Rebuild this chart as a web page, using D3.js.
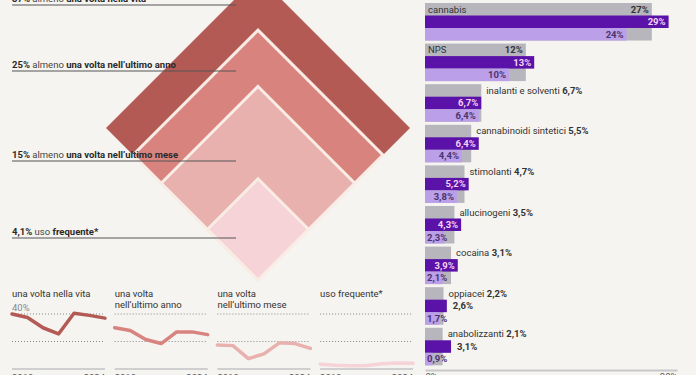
<!DOCTYPE html>
<html><head><meta charset="utf-8">
<script src="https://cdn.jsdelivr.net/npm/d3@7"></script>
<style>
html,body{margin:0;padding:0;background:#f5f4f0;}
svg{display:block;font-family:Roboto,"Liberation Sans",sans-serif;}
</style></head><body>
<svg id="chart" width="696" height="375"></svg>
<script>
// ---- data ----
const levelValues = [37, 25, 15, 4.1];
const levelPrefix = ["almeno", "almeno", "almeno", "uso"];
const levelText = ["una volta nella vita", "una volta nell’ultimo anno", "una volta nell’ultimo mese", "frequente*"];
const trendTitles = [["una volta nella vita"], ["una volta", "nell’ultimo anno"], ["una volta", "nell’ultimo mese"], ["uso frequente*"]];
const years = [2018, 2019, 2020, 2021, 2022, 2023, 2024];
const trendLife = [40, 37.5, 30, 25.5, 40.5, 39, 37];
const trendYear = [30, 28, 21.5, 18.5, 27, 27, 25];
const trendMonth = [17.5, 17, 7.5, 11, 19, 18.5, 15];
const trendFreq = [3.5, 2.8, 2.4, 2.6, 3.8, 4.3, 4.1];
const trendTicks = [20, 40];
const substances = ["cannabis", "NPS", "inalanti e solventi", "cannabinoidi sintetici", "stimolanti", "allucinogeni", "cocaina", "oppiacei", "anabolizzanti"];
const totalValues = [27, 12, 6.7, 5.5, 4.7, 3.5, 3.1, 2.2, 2.1];
const maleValues = [29, 13, 6.7, 6.4, 5.2, 4.3, 3.9, 2.6, 3.1];
const femaleValues = [24, 10, 6.4, 4.4, 3.8, 2.3, 2.1, 1.7, 0.9];
const barTicks = [0, 30];

// ---- setup ----
const svg = d3.select("#chart");
const fmt = v => String(v).replace(".", ",") + "%";
const levelColors = ["#b35a55", "#d9837f", "#e9b1ae", "#f6d3d7"];
const trends = [trendLife, trendYear, trendMonth, trendFreq];

// ---- diamond ----
const cx = 258, by = 280;
const r = d3.scaleSqrt().domain([0, 37]).range([0, 152]);
const gD = svg.append("g");
levelValues.forEach((v, i) => {
  const h = r(v);
  gD.append("polygon")
    .attr("points", [[cx, by - 2 * h], [cx + h, by - h], [cx, by], [cx - h, by - h]].map(p => p.join(",")).join(" "))
    .attr("fill", levelColors[i])
    .attr("stroke", i === 0 ? "none" : "#f8ece4")
    .attr("stroke-width", 3);
});
const labelLineY = [5, 71, 161, 238];
levelValues.forEach((v, i) => {
  const ly = labelLineY[i];
  svg.append("line").attr("x1", 12).attr("x2", 236).attr("y1", ly).attr("y2", ly)
    .attr("stroke", "#555").attr("stroke-width", 1);
  const t = svg.append("text").attr("x", 12).attr("y", ly - 3.5).attr("font-size", 9.5).attr("fill", "#2a2a2a");
  t.append("tspan").attr("font-weight", 700).text(fmt(v));
  t.append("tspan").attr("fill", "#444").text(" " + levelPrefix[i] + " ");
  t.append("tspan").attr("font-weight", 700).text(levelText[i]);
});

// ---- sparklines ----
const ys = d3.scaleLinear().domain([0, 40]).range([369, 314]);
trends.forEach((vals, i) => {
  const x0 = 12 + i * 102.7, w = 93;
  const xs = d3.scaleLinear().domain([years[0], years[years.length - 1]]).range([x0, x0 + w]);
  const g = svg.append("g");
  trendTicks.forEach(t => {
    g.append("line").attr("x1", x0).attr("x2", x0 + w).attr("y1", ys(t)).attr("y2", ys(t))
      .attr("stroke", "#888").attr("stroke-width", 1).attr("stroke-dasharray", "1,2");
  });
  g.append("line").attr("x1", x0).attr("x2", x0 + w).attr("y1", ys(0)).attr("y2", ys(0))
    .attr("stroke", "#cfcfcf").attr("stroke-width", 2);
  g.append("path").datum(vals)
    .attr("d", d3.line().x((d, j) => xs(years[j])).y(d => ys(d)))
    .attr("fill", "none").attr("stroke", levelColors[i]).attr("stroke-width", 3.5)
    .attr("stroke-linejoin", "round").attr("stroke-linecap", "round");
  trendTitles[i].forEach((line, k) => {
    g.append("text").attr("x", x0).attr("y", 297 + k * 10.5).attr("font-size", 9.5).attr("fill", "#333").text(line);
  });
  if (i === 0) {
    g.append("text").attr("x", x0).attr("y", ys(40) - 3).attr("font-size", 9.5).attr("fill", "#888").text("40%");
  }
  g.append("text").attr("x", x0).attr("y", 381).attr("font-size", 9.5).attr("fill", "#555").text(years[0]);
  g.append("text").attr("x", x0 + w).attr("y", 381).attr("text-anchor", "end").attr("font-size", 9.5).attr("fill", "#555").text(years[years.length - 1]);
});

// ---- bars ----
const x = d3.scaleLinear().domain([0, 30]).range([425, 677]);
const yb = d3.scaleBand().domain(substances).range([3, 365.3]).paddingInner(0.076);
const bw = yb.bandwidth(), rh = bw / 3;
const gB = svg.append("g").attr("font-size", 9.5);
substances.forEach((s, i) => {
  const y0 = yb(s);
  const tv = totalValues[i], mv = maleValues[i], fv = femaleValues[i];
  gB.append("rect").attr("x", x(0)).attr("y", y0).attr("width", x(tv) - x(0)).attr("height", bw).attr("fill", "#b6b6bc");
  gB.append("rect").attr("x", x(0)).attr("y", y0 + rh).attr("width", x(mv) - x(0)).attr("height", rh).attr("fill", "#5a12a8");
  gB.append("rect").attr("x", x(0)).attr("y", y0 + 2 * rh).attr("width", x(fv) - x(0)).attr("height", rh).attr("fill", "#bb9fe8");
  // total row labels
  const ty = y0 + rh / 2;
  if (x(tv) - x(0) > 80) {
    gB.append("text").attr("x", x(0) + 3).attr("y", ty).attr("dy", "0.35em").attr("fill", "#333").text(s);
    gB.append("text").attr("x", x(tv) - 3).attr("y", ty).attr("dy", "0.35em").attr("text-anchor", "end")
      .attr("font-weight", 700).attr("fill", "#333").text(fmt(tv));
  } else {
    const t = gB.append("text").attr("x", x(tv) + 5).attr("y", ty).attr("dy", "0.35em").attr("fill", "#333");
    t.append("tspan").text(s + " ");
    t.append("tspan").attr("font-weight", 700).text(fmt(tv));
  }
  // male row
  const my = y0 + rh * 1.5;
  if (x(mv) - x(0) > 30) {
    gB.append("text").attr("x", x(mv) - 3).attr("y", my).attr("dy", "0.35em").attr("text-anchor", "end")
      .attr("font-weight", 700).attr("fill", "#f6d3f6").text(fmt(mv));
  } else {
    gB.append("text").attr("x", x(mv) + 6).attr("y", my).attr("dy", "0.35em")
      .attr("font-weight", 700).attr("fill", "#333").text(fmt(mv));
  }
  // female row
  const fy = y0 + rh * 2.5;
  if (x(fv) - x(0) > 30) {
    gB.append("text").attr("x", x(fv) - 3).attr("y", fy).attr("dy", "0.35em").attr("text-anchor", "end")
      .attr("font-weight", 700).attr("fill", "#4a3470").text(fmt(fv));
  } else {
    gB.append("text").attr("x", x(0) + 2).attr("y", fy).attr("dy", "0.35em")
      .attr("font-weight", 700).attr("fill", "#4a3470").text(fmt(fv));
  }
});
const axis = svg.append("g").attr("transform", "translate(0,370)")
  .call(d3.axisBottom(x).tickValues(barTicks).tickSize(0).tickPadding(3).tickFormat(d => d + "%"));
axis.select(".domain").attr("stroke", "#c8c8c8").attr("stroke-width", 2);
axis.selectAll("text").attr("font-size", 9.5).attr("fill", "#555").attr("font-family", "Roboto,'Liberation Sans',sans-serif")
  .attr("text-anchor", (d, i) => i === 0 ? "start" : "end");
</script>
</body></html>
